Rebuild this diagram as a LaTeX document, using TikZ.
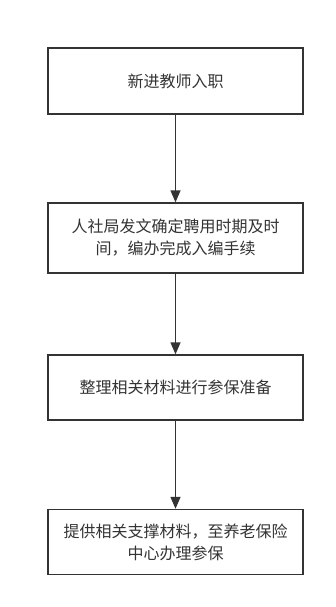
\documentclass[tikz,border=0pt]{standalone}
\usepackage{fontspec}
\newfontfamily\cjk{Noto Sans CJK SC}
\usetikzlibrary{arrows.meta}
\definecolor{ink}{HTML}{333333}
\begin{document}
\begin{tikzpicture}[x=1pt,y=-1pt,
  stepbox/.style={draw=ink, line width=1.4pt, minimum width=255pt, align=center, font=\cjk\fontsize{16}{22}\selectfont, text=ink, inner sep=0pt},
  conn/.style={draw=ink, line width=1.4pt, -{Triangle[length=12pt,width=10pt]}}]
\useasboundingbox (0,0) rectangle (335,607);
\node[stepbox, minimum height=66pt] (a) at (175.5,81) {新进教师入职};
\node[stepbox, minimum height=70pt] (b) at (175.5,238) {人社局发文确定聘用时期及时\\间，编办完成入编手续};
\node[stepbox, minimum height=65pt] (c) at (175.5,387.5) {整理相关材料进行参保准备};
\node[stepbox, minimum height=65pt] (d) at (175.5,542) {提供相关支撑材料，至养老保险\\中心办理参保};
\draw[conn] (a) -- (b);
\draw[conn] (b) -- (c);
\draw[conn] (c) -- (d);
\end{tikzpicture}
\end{document}
